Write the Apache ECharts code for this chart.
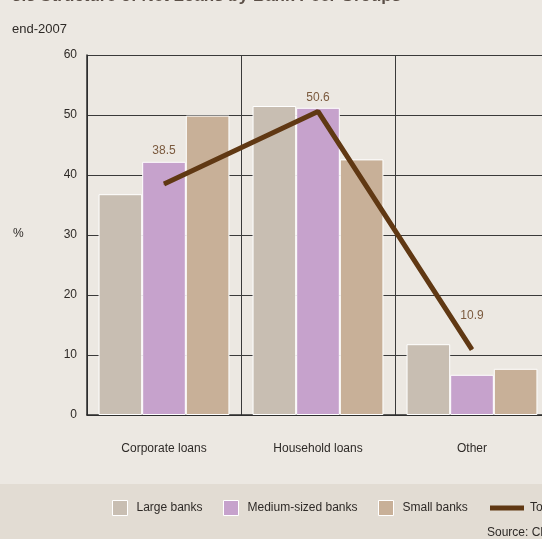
<!DOCTYPE html>
<html>
<head>
<meta charset="utf-8">
<script src="https://cdn.jsdelivr.net/npm/echarts@6/dist/echarts.min.js"></script>
<style>
  html, body { margin: 0; padding: 0; background: #ece8e2; overflow: hidden; }
  #chart { width: 549px; height: 539px; }
</style>
</head>
<body>
<div id="chart"></div>
<script>
// Net loan structure by bank peer group, end-2007 (%)
const categories = ['Corporate loans', 'Household loans', 'Other'];
const largeBanks = [36.8, 51.5, 11.8];
const mediumBanks = [42.2, 51.2, 6.7];
const smallBanks = [49.9, 42.6, 7.7];
const totalBanks = [38.5, 50.6, 10.9];
const yTicks = [0, 10, 20, 30, 40, 50, 60];

// distance of each total label above its point
const totalLabelGap = [27, 7, 27];

const FONT = '"Liberation Sans", Arial, sans-serif';
const TEXT = '#2e2a27';

const chart = echarts.init(document.getElementById('chart'), null, { renderer: 'canvas' });

const barStyle = (color) => ({
  color: color,
  borderColor: '#ffffff',
  borderWidth: 1
});

// one legend block per entry, each placed on its own
const legendEntry = (name, left, extra) => Object.assign({
  left: left, top: 500, padding: 0,
  itemWidth: 15, itemHeight: 15,
  icon: 'rect',
  itemStyle: { borderColor: '#ffffff', borderWidth: 1 },
  textStyle: { fontFamily: FONT, fontSize: 12, color: TEXT, padding: [0, 0, 0, 4] },
  data: [name]
}, extra || {});

chart.setOption({
  backgroundColor: '#ece8e2',
  animation: false,
  textStyle: { fontFamily: FONT },
  graphic: [
    {
      type: 'rect', left: 0, top: 484, z: -10, silent: true,
      shape: { width: 549, height: 55 },
      style: { fill: '#e2dcd3' }
    },
    {
      type: 'text', left: 12, top: -12,
      style: { text: '3.3 Structure of Net Loans by Bank Peer Groups', fill: '#5b4f47',
               font: 'bold 17px ' + FONT }
    },
    {
      type: 'text', left: 12, top: 23,
      style: { text: 'end-2007', fill: TEXT, font: '13px ' + FONT }
    },
    {
      type: 'text', left: 13, top: 228,
      style: { text: '%', fill: TEXT, font: '12px ' + FONT }
    },
    {
      type: 'text', left: 487, top: 527,
      style: { text: 'Source: CNB', fill: TEXT, font: '12px ' + FONT }
    }
  ],
  grid: { left: 87, top: 55, right: 0, bottom: 124, containLabel: false },
  legend: [
    legendEntry('Large banks', 112),
    legendEntry('Medium-sized banks', 223),
    legendEntry('Small banks', 378),
    legendEntry('Total', 490, {
      itemWidth: 34, itemHeight: 5,
      top: 502,
      itemStyle: { borderWidth: 0 },
      textStyle: { fontFamily: FONT, fontSize: 12, color: TEXT, padding: [0, 0, 0, 1] }
    })
  ],
  xAxis: {
    type: 'category',
    data: categories,
    boundaryGap: true,
    axisLine: { show: true, lineStyle: { color: '#2b2b2b', width: 1.5 } },
    axisTick: { show: false },
    axisLabel: { color: TEXT, fontFamily: FONT, fontSize: 12, margin: 28 },
    splitLine: { show: true, lineStyle: { color: '#3a3a3a', width: 1 } }
  },
  yAxis: {
    type: 'value',
    min: yTicks[0],
    max: yTicks[yTicks.length - 1],
    interval: 10,
    axisLine: { show: true, lineStyle: { color: '#2b2b2b', width: 1.5 } },
    axisTick: { show: false },
    axisLabel: { color: TEXT, fontFamily: FONT, fontSize: 12, margin: 10 },
    splitLine: { show: true, lineStyle: { color: '#3a3a3a', width: 1 } }
  },
  series: [
    {
      name: 'Large banks', type: 'bar', data: largeBanks,
      barGap: '0%', barCategoryGap: '15%',
      itemStyle: barStyle('#c8beb2')
    },
    {
      name: 'Medium-sized banks', type: 'bar', data: mediumBanks,
      barGap: '0%', barCategoryGap: '15%',
      itemStyle: barStyle('#c6a2cc')
    },
    {
      name: 'Small banks', type: 'bar', data: smallBanks,
      barGap: '0%', barCategoryGap: '15%',
      itemStyle: barStyle('#c8b098')
    },
    {
      name: 'Total', type: 'line',
      data: totalBanks.map((v, i) => ({ value: v, label: { distance: totalLabelGap[i] } })),
      symbol: 'circle',
      symbolSize: 1,
      showSymbol: true,
      z: 5,
      lineStyle: { color: '#603813', width: 5 },
      itemStyle: { color: '#603813' },
      label: {
        show: true, position: 'top',
        color: '#7b5a3e', fontFamily: FONT, fontSize: 12,
        formatter: (p) => p.value.toFixed(1)
      }
    }
  ]
});
</script>
</body>
</html>
